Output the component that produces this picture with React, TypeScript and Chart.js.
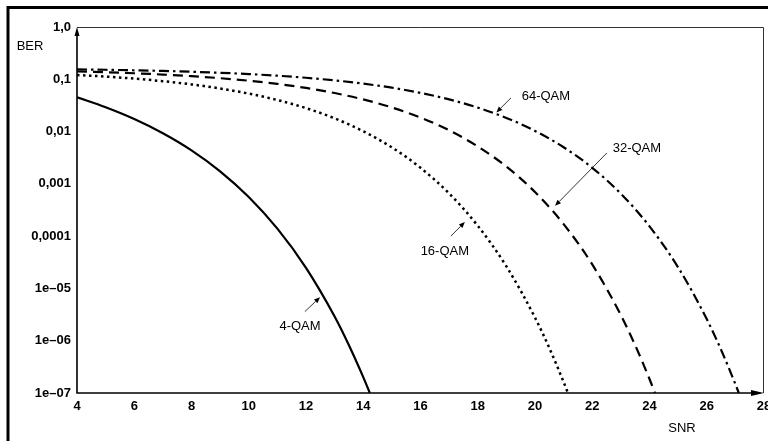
import React, { useEffect, useRef } from "react";
import { Chart, registerables } from "chart.js";

Chart.register(...registerables);

// ---- Data ----
const SNR_4QAM = [4, 5, 6, 7, 8, 9, 10, 11, 12, 13, 13.5, 14, 14.23];
const BER_4QAM = [0.0453, 0.0292, 0.0174, 0.00931, 0.00438, 0.00174, 5.61e-4, 1.39e-4, 2.48e-5, 2.91e-6, 8.2e-7, 2.01e-7, 1e-7];

const SNR_16QAM = [4, 5, 6, 7, 8, 9, 10, 11, 12, 13, 14, 15, 16, 17, 18, 19, 20, 20.5, 21, 21.15];
const BER_16QAM = [0.1208, 0.1127, 0.103, 0.0919, 0.0798, 0.0667, 0.0532, 0.0401, 0.0281, 0.0179, 0.01014, 0.00498, 0.00203, 6.55e-4, 1.58e-4, 2.64e-5, 2.77e-6, 7.26e-7, 1.62e-7, 1e-7];

const SNR_32QAM = [4, 5, 6, 7, 8, 9, 10, 11, 12, 13, 14, 15, 16, 17, 18, 19, 20, 21, 22, 23, 23.5, 24, 24.19];
const BER_32QAM = [0.1413, 0.1365, 0.1303, 0.1233, 0.1148, 0.105, 0.094, 0.0817, 0.0683, 0.0546, 0.0412, 0.0289, 0.01854, 0.01057, 0.0052, 0.00214, 6.97e-4, 1.7e-4, 2.88e-5, 3.08e-6, 8.17e-7, 1.85e-7, 1e-7];

const SNR_64QAM = [4, 5, 6, 7, 8, 9, 10, 11, 12, 13, 14, 15, 16, 17, 18, 19, 20, 21, 22, 23, 24, 25, 26, 26.5, 27, 27.12];
const BER_64QAM = [0.1549, 0.1521, 0.1486, 0.1445, 0.1393, 0.1331, 0.1259, 0.117, 0.1069, 0.0953, 0.0826, 0.069, 0.055, 0.0412, 0.0287, 0.01824, 0.0103, 0.00501, 0.00203, 6.47e-4, 1.54e-4, 2.53e-5, 2.59e-6, 6.71e-7, 1.48e-7, 1e-7];

const Y_TICK_VALUES = [1, 0.1, 0.01, 0.001, 0.0001, 1e-5, 1e-6, 1e-7];
const Y_TICK_LABELS = ["1,0", "0,1", "0,01", "0,001", "0,0001", "1e\u201305", "1e\u201306", "1e\u201307"];
const X_MIN = 4;
const X_MAX = 28;
const X_STEP = 2;

// annotation labels: text centre and arrow (from -> tip), in data units
const LABELS = ["64-QAM", "32-QAM", "16-QAM", "4-QAM"];
const LABEL_X = [20.38, 23.56, 16.85, 11.79];
const LABEL_Y = [0.048, 0.0047, 5.0e-5, 1.84e-6];
const ARROW_FROM_X = [19.16, 22.51, 17.06, 11.96];
const ARROW_FROM_Y = [0.044, 0.0039, 1.0e-4, 3.6e-6];
const ARROW_TIP_X = [18.65, 20.7, 17.55, 12.49];
const ARROW_TIP_Y = [0.0232, 3.8e-4, 1.86e-4, 6.8e-6];

const FONT = "'Liberation Sans', Arial, Helvetica, sans-serif";

function pts(xs: number[], ys: number[]) {
  return xs.map((x, i) => ({ x, y: ys[i] }));
}

function arrow(ctx: CanvasRenderingContext2D, x0: number, y0: number, x1: number, y1: number, len: number, half: number, lw: number) {
  const ang = Math.atan2(y1 - y0, x1 - x0);
  const bx = x1 - len * Math.cos(ang);
  const by = y1 - len * Math.sin(ang);
  ctx.lineWidth = lw;
  ctx.beginPath();
  ctx.moveTo(x0, y0);
  ctx.lineTo(bx, by);
  ctx.stroke();
  ctx.beginPath();
  ctx.moveTo(x1, y1);
  ctx.lineTo(bx + half * Math.sin(ang), by - half * Math.cos(ang));
  ctx.lineTo(bx - half * Math.sin(ang), by + half * Math.cos(ang));
  ctx.closePath();
  ctx.fill();
}

const overlay = {
  id: "overlay",
  beforeDraw(chart: any) {
    const { ctx, width, height } = chart;
    ctx.save();
    ctx.fillStyle = "#fff";
    ctx.fillRect(0, 0, width, height);
    ctx.restore();
  },
  afterDraw(chart: any) {
    const { ctx, chartArea: a, scales } = chart;
    const xs = scales.x;
    const ys = scales.y;
    ctx.save();
    ctx.strokeStyle = "#000";
    ctx.fillStyle = "#000";
    // outer frame (top and left)
    ctx.lineWidth = 3;
    ctx.beginPath();
    ctx.moveTo(8, chart.height);
    ctx.lineTo(8, 7.5);
    ctx.lineTo(chart.width, 7.5);
    ctx.stroke();
    // thin box top/right
    ctx.lineWidth = 1;
    ctx.strokeStyle = "#333";
    ctx.beginPath();
    ctx.moveTo(a.left, a.top + 0.5);
    ctx.lineTo(a.right - 0.5, a.top + 0.5);
    ctx.lineTo(a.right - 0.5, a.bottom);
    ctx.stroke();
    // axes
    ctx.strokeStyle = "#000";
    ctx.lineWidth = 1.6;
    ctx.beginPath();
    ctx.moveTo(a.left, a.top + 6);
    ctx.lineTo(a.left, a.bottom);
    ctx.lineTo(a.right - 10, a.bottom);
    ctx.stroke();
    arrow(ctx, a.left, a.top + 8, a.left, a.top, 9, 2.5, 1.6);
    arrow(ctx, a.right - 12, a.bottom, a.right, a.bottom, 13, 3, 1.6);

    // axis titles
    ctx.font = `13px ${FONT}`;
    ctx.textAlign = "center";
    ctx.textBaseline = "middle";
    ctx.fillText("BER", a.left - 47, a.top + 19);
    ctx.fillText("SNR", a.right - 82, a.bottom + 35);

    // curve labels with arrows
    for (let i = 0; i < LABELS.length; i++) {
      ctx.fillText(LABELS[i], xs.getPixelForValue(LABEL_X[i]), ys.getPixelForValue(LABEL_Y[i]));
      arrow(
        ctx,
        xs.getPixelForValue(ARROW_FROM_X[i]),
        ys.getPixelForValue(ARROW_FROM_Y[i]),
        xs.getPixelForValue(ARROW_TIP_X[i]),
        ys.getPixelForValue(ARROW_TIP_Y[i]),
        6,
        2.5,
        0.8
      );
    }
    ctx.restore();
  },
};

export default function App() {
  const ref = useRef<HTMLCanvasElement | null>(null);
  useEffect(() => {
    if (!ref.current) return;
    const common = {
      fill: false,
      pointRadius: 0,
      borderColor: "#000",
      borderWidth: 2.2,
      cubicInterpolationMode: "monotone" as const,
    };
    const chart = new Chart(ref.current, {
      type: "line",
      data: {
        datasets: [
          { ...common, label: "4-QAM", data: pts(SNR_4QAM, BER_4QAM), borderWidth: 2.2 },
          { ...common, label: "16-QAM", data: pts(SNR_16QAM, BER_16QAM), borderWidth: 2.5, borderDash: [2.5, 3.5] },
          { ...common, label: "32-QAM", data: pts(SNR_32QAM, BER_32QAM), borderDash: [10, 6] },
          { ...common, label: "64-QAM", data: pts(SNR_64QAM, BER_64QAM), borderDash: [10, 4, 2.5, 4] },
        ],
      },
      options: {
        responsive: false,
        animation: false,
        devicePixelRatio: 1,
        layout: { padding: { top: 27, right: 36, left: 0, bottom: 0 } },
        plugins: { legend: { display: false }, tooltip: { enabled: false } },
        scales: {
          x: {
            type: "linear",
            min: X_MIN,
            max: X_MAX,
            grid: { display: false, drawTicks: false },
            border: { display: false },
            ticks: {
              stepSize: X_STEP,
              padding: 6,
              color: "#000",
              maxRotation: 0,
              font: { family: FONT, size: 13, weight: "bold" },
            },
            afterFit: (s: any) => {
              s.height = 48;
            },
          },
          y: {
            type: "logarithmic",
            min: 1e-7,
            max: 1,
            grid: { display: false, drawTicks: false },
            border: { display: false },
            afterBuildTicks: (s: any) => {
              s.ticks = Y_TICK_VALUES.map((v) => ({ value: v }));
            },
            ticks: {
              padding: 6,
              color: "#000",
              font: { family: FONT, size: 13, weight: "bold" },
              callback: (v: any) => {
                const i = Y_TICK_VALUES.findIndex((t) => Math.abs(Math.log10(t) - Math.log10(Number(v))) < 1e-6);
                return i >= 0 ? Y_TICK_LABELS[i] : "";
              },
            },
            afterFit: (s: any) => {
              s.width = 77;
            },
          },
        },
      },
      plugins: [overlay],
    });
    return () => chart.destroy();
  }, []);

  return (
    <div
      style={{
        position: "fixed",
        left: 0,
        top: 0,
        width: 768,
        height: 441,
        overflow: "hidden",
        background: "#fff",
      }}
    >
      <canvas ref={ref} width={800} height={441} style={{ display: "block" }} />
    </div>
  );
}
